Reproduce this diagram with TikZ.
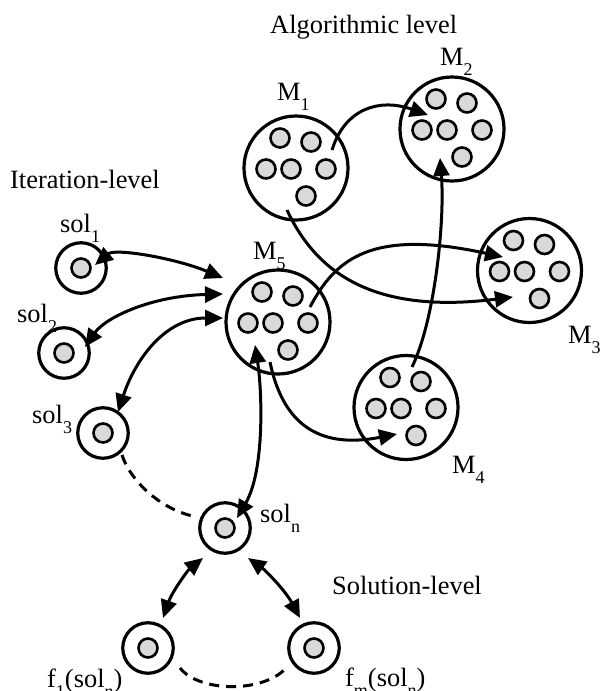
\documentclass[tikz,border=0pt]{standalone}
\usepackage{fontspec}
\setmainfont{Liberation Serif}
\usetikzlibrary{arrows.meta,calc}
\definecolor{dotgray}{RGB}{217,217,217}
\newcommand\lsub[1]{\raisebox{-10pt}{\fontsize{18}{18}\selectfont #1}}
\newcommand\population[3]{%
  \node[pop] (#1) at (#2,#3) {};
  \foreach \dx/\dy [count=\k] in {-16/-30, 15/-26, -30/1, -5/1, 30/1, 10/28}
    \node[ind] (#1-\k) at ($(#1)+(\dx,\dy)$) {};
}
\newcommand\solnode[3]{%
  \node[solc] (#1) at (#2,#3) {};
  \node[ind] (#1-in) at (#1.center) {};
}
\begin{document}
\begin{tikzpicture}[x=1pt,y=-1pt,
  pop/.style={circle,draw,line width=3.2pt,minimum size=104pt,inner sep=0pt},
  ind/.style={circle,draw,line width=2.6pt,fill=dotgray,minimum size=19pt,inner sep=0pt},
  solc/.style={circle,draw,line width=3.2pt,minimum size=50.5pt,inner sep=0pt},
  lbl/.style={anchor=base west,inner sep=0pt,font=\fontsize{26.4}{30}\selectfont},
  tip/.tip={Triangle[length=18pt,width=16pt]},
  link/.style={line width=3pt,-tip},
  dlink/.style={line width=3pt,tip-tip},
  dashlink/.style={line width=3pt,dash pattern=on 10pt off 7pt}
]
\useasboundingbox (0,0) rectangle (600,691);

% populations
\population{M1}{296}{168}
\population{M2}{452}{129}
\population{M3}{529.5}{270.5}
\population{M4}{406}{407.5}
\population{M5}{278}{322}

% single solutions
\solnode{s1}{81}{268}
\solnode{s2}{64}{353}
\solnode{s3}{103}{433}
\solnode{sn}{225}{528}
\solnode{f1}{148}{648}
\solnode{fm}{314}{648}

% labels
\node[lbl] (tAlg) at (270,33) {Algorithmic level};
\node[lbl] (tIter) at (10,188) {Iteration-level};
\node[lbl] (tSol) at (332,594) {Solution-level};
\node[lbl] (lM1) at (277,100) {M\lsub{1}};
\node[lbl] (lM2) at (440,65) {M\lsub{2}};
\node[lbl] (lM3) at (568,343) {M\lsub{3}};
\node[lbl] (lM4) at (452,473) {M\lsub{4}};
\node[lbl] (lM5) at (253,259) {M\lsub{5}};
\node[lbl] (ls1) at (60,232) {sol\lsub{1}};
\node[lbl] (ls2) at (17,322) {sol\lsub{2}};
\node[lbl] (ls3) at (32,423) {sol\lsub{3}};
\node[lbl] (lsn) at (260,522) {sol\lsub{n}};
\node[lbl] (lf1) at (47,687) {f\lsub{1}(sol\lsub{n})};
\node[lbl] (lfm) at (345,686) {f\lsub{m}(sol\lsub{n})};

% algorithmic-level migrations
\draw[link] ($(M1)+(36,-18)$) .. controls (345,108) and (380,98) .. ($(M2)+(-24,-14)$);
\draw[link] ($(M1)+(-9,42)$) .. controls (315,270) and (370,315) .. ($(M3)+(-16.5,26.5)$);
\draw[link] ($(M5)+(32,-15)$) .. controls (335,260) and (370,228) .. ($(M3)+(-26.5,-13.5)$);
\draw[link] ($(M5)+(-8,40)$) .. controls (282,420) and (315,450) .. ($(M4)+(-9,26.5)$);
\draw[link] ($(M4)+(6,-40.5)$) .. controls (435,320) and (445,220) .. ($(M2)+(-12,29)$);

% iteration-level
\draw[dlink] ($(s1)+(14,-3)$) .. controls (115,248) and (175,258) .. ($(M5)+(-55,-44)$);
\draw[dlink] ($(s2)+(21,-6)$) .. controls (105,318) and (150,296) .. ($(M5)+(-55,-28)$);
\draw[dlink] ($(s3)+(15,-21)$) .. controls (135,360) and (165,318) .. ($(M5)+(-55,-4)$);
\draw[dlink] ($(sn)+(12,-10)$) .. controls (265,470) and (262,390) .. ($(M5)+(-23,23)$);
\draw[dashlink] ($(s3)+(19,22)$) .. controls (130,480) and (160,510) .. ($(sn)+(-28,-11)$);

% solution-level
\draw[dlink] ($(sn)+(-22,30)$) .. controls (188,570) and (172,592) .. ($(f1)+(15,-30)$);
\draw[dlink] ($(sn)+(23,30)$) .. controls (265,570) and (285,590) .. ($(fm)+(-14,-30)$);
\draw[dashlink] ($(f1)+(32,20)$) .. controls (200,693) and (265,693) .. ($(fm)+(-27,19)$);
\end{tikzpicture}
\end{document}
